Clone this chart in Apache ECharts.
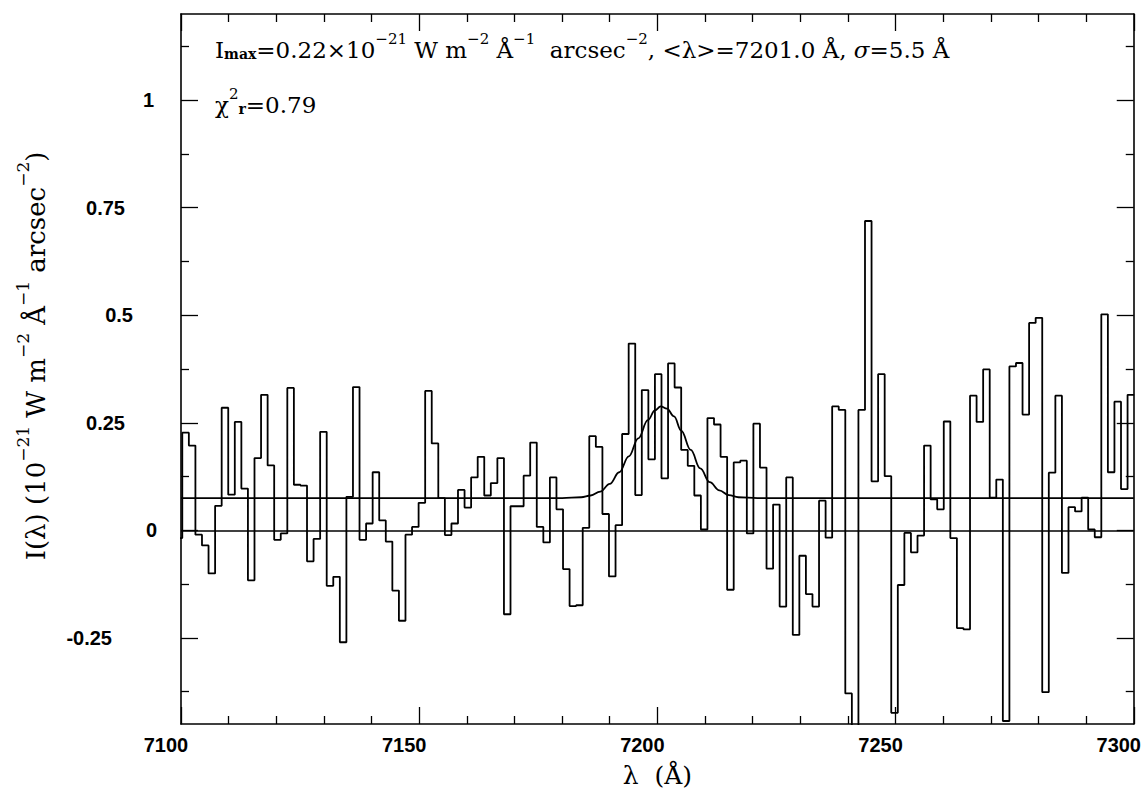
<!DOCTYPE html>
<html>
<head>
<meta charset="utf-8">
<script src="https://cdn.jsdelivr.net/npm/echarts@6/dist/echarts.min.js"></script>
<style>
html,body{margin:0;padding:0;background:#fff;}
#chart{width:1144px;height:793px;}
</style>
</head>
<body>
<div id="chart"></div>
<script>
// ---- data ----
// spectrum bins: first bin starts at binFirstEdge, constant width binWidth (Å)
const binFirstEdge = 7098.892;
const binWidth = 1.378;
const flux = [
 -0.018, 0.227, 0.197, -0.010, -0.035, -0.100, 0.057, 0.285, 0.083, 0.252,
  0.097, -0.116, 0.168, 0.315, 0.151, -0.022, -0.007, 0.331, 0.106, 0.104,
 -0.072, -0.020, 0.229, -0.129, -0.108, -0.260, 0.078, 0.333, -0.022, 0.016,
  0.135, 0.023, -0.026, -0.140, -0.210, -0.010, 0.008, 0.064, 0.324, 0.202,
  0.075, -0.011, 0.016, 0.094, 0.053, 0.123, 0.171, 0.081, 0.110, 0.168,
 -0.195, 0.056, 0.056, 0.127, 0.204, 0.008, -0.028, 0.123, 0.049, -0.090,
 -0.176, -0.174, 0.006, 0.219, 0.194, 0.038, -0.107, 0.012, 0.224, 0.434,
  0.082, 0.326, 0.165, 0.363, 0.121, 0.388, 0.332, 0.187, 0.150, 0.081,
  0.002, 0.261, 0.246, 0.171, -0.138, 0.158, 0.162, -0.007, 0.248, 0.146,
 -0.089, 0.060, -0.177, 0.123, -0.243, -0.059, -0.148, -0.177, 0.069, -0.017,
  0.288, 0.280, -0.379, -0.470, 0.280, 0.719, 0.114, 0.363, 0.126, -0.424,
 -0.127, -0.006, -0.051, -0.012, 0.197, 0.072, 0.049, 0.253, -0.018, -0.227,
 -0.230, 0.313, 0.252, 0.374, 0.076, 0.118, -0.443, 0.381, 0.389, 0.269,
  0.482, 0.494, -0.376, 0.134, 0.313, -0.099, 0.054, 0.044, 0.076, 0.002,
 -0.016, 0.502, 0.135, 0.299, 0.096, 0.315
];
// fitted gaussian + continuum
const fitLambda = [7100, 7180, 7184, 7186, 7188, 7190, 7192, 7194, 7196, 7198, 7199.5, 7200.7,
                   7202, 7203.5, 7205, 7207, 7209, 7211, 7213, 7215, 7217, 7221, 7300];
const fitFlux   = [0.075, 0.075, 0.077, 0.081, 0.090, 0.108, 0.135, 0.172, 0.214, 0.256, 0.279, 0.288,
                   0.283, 0.265, 0.232, 0.187, 0.144, 0.112, 0.093, 0.082, 0.077, 0.075, 0.075];
const zeroLevel = 0;
// axes
const xMin = 7100, xMax = 7300, xStep = 50;
const xTickValues = [7100, 7150, 7200, 7250, 7300];
const xTickLabels = ['7100', '7150', '7200', '7250', '7300'];
const yMin = -0.45, yMax = 1.2;
const yMajorTicks = [-0.25, 0, 0.25, 0.5, 0.75, 1];
const yTickLabels = ['-0.25', '0', '0.25', '0.5', '0.75', '1'];
const yMinorTicks = [-0.375, -0.125, 0.125, 0.375, 0.625, 0.875, 1.125];

// ---- build histogram outline from bins ----
const histPts = [];
flux.forEach((v, i) => {
  const lo = binFirstEdge + i * binWidth;
  const hi = lo + binWidth;
  histPts.push([lo, v], [hi, v]);
});
const fitPts = fitLambda.map((x, i) => [x, fitFlux[i]]);

// ---- styles ----
const INK = '#000';
const tickFont = {fontFamily: 'Liberation Sans', fontWeight: 'bold', fontSize: 20, color: INK};
// per-label horizontal nudges of the y labels (as in the original)
const yLabelShift = {'-0.25': 45, '0': 0, '0.25': 32, '0.5': 24, '0.75': 32, '1': 3};
const yRich = {};
yTickLabels.forEach((t, i) => {
  yRich['l' + i] = Object.assign({}, tickFont, {padding: [0, yLabelShift[t], 0, 0]});
});
function yLabelFmt(v) {
  const i = yMajorTicks.findIndex(t => Math.abs(t - v) < 1e-9);
  return i < 0 ? '' : '{l' + i + '|' + yTickLabels[i] + '}';
}
function xLabelFmt(v) {
  const i = xTickValues.findIndex(t => Math.abs(t - v) < 1e-9);
  return i < 0 ? '' : xTickLabels[i];
}
const lineW = 1.6;
function xAxisDef(pos, labels) {
  return {
    type: 'value', position: pos, min: xMin, max: xMax, interval: xStep,
    axisLine: {show: true, onZero: false, lineStyle: {color: INK, width: lineW}},
    axisTick: {show: true, inside: true, length: 17, lineStyle: {color: INK, width: 1.3}},
    minorTick: {show: true, splitNumber: 5, length: 8, lineStyle: {color: INK, width: 1.3}},
    splitLine: {show: false}, minorSplitLine: {show: false},
    axisLabel: labels ? Object.assign({show: true, margin: 11, padding: [0, 30, 0, 0],
      showMinLabel: true, showMaxLabel: true, formatter: xLabelFmt}, tickFont) : {show: false}
  };
}
function yAxisDef(pos, ticks, len, labels, line) {
  return {
    type: 'value', position: pos, offset: 0, min: yMin, max: yMax,
    axisLine: {show: line, onZero: false, lineStyle: {color: INK, width: lineW}},
    axisTick: {show: true, inside: true, length: len, customValues: ticks, lineStyle: {color: INK, width: 1.3}},
    splitLine: {show: false},
    axisLabel: labels ? {show: true, customValues: ticks, margin: 24, align: 'right',
      formatter: yLabelFmt, rich: yRich} : {show: false}
  };
}

const serif = 'DejaVu Serif';
const annRich = {
  m:   {fontFamily: serif, fontSize: 23, fill: INK, verticalAlign: 'middle'},
  it:  {fontFamily: serif, fontSize: 23, fontStyle: 'italic', fill: INK, verticalAlign: 'middle'},
  sup: {fontFamily: serif, fontSize: 15, fill: INK, verticalAlign: 'middle', padding: [0, 0, 23, 0]},
  sub: {fontFamily: serif, fontSize: 14, fontWeight: 'bold', fill: INK, verticalAlign: 'middle', padding: [7, 0, 0, 0]}
};
const titleRich = {
  m:   {fontFamily: serif, fontSize: 26, fill: INK, verticalAlign: 'middle'},
  sup: {fontFamily: serif, fontSize: 17, fill: INK, verticalAlign: 'middle', padding: [0, 0, 26, 0]}
};
const annText = '{m|I}{sub|max}{m|=0.22×10}{sup|−21}{m| W m}{sup|−2}{m| Å}{sup|−1}{m|  arcsec}{sup|−2}{m|, <λ>=7201.0 Å, }{it|σ}{m|=5.5 Å}';
const chiText = '{m|χ}{sup|2}{sub|r}{m|=0.79}';
const yTitleText = '{m|I(λ) (10}{sup|−21}{m| W m}{sup|−2}{m| Å}{sup|−1}{m| arcsec}{sup|−2}{m|)}';

const chart = echarts.init(document.getElementById('chart'), null, {renderer: 'svg'});
chart.setOption({
  animation: false,
  backgroundColor: '#fff',
  grid: {left: 181, right: 5, top: 14, bottom: 62, containLabel: false},
  xAxis: [
    Object.assign(xAxisDef('bottom', true), {
      name: 'λ  (Å)', nameLocation: 'middle', nameGap: 39,
      nameTextStyle: {fontFamily: serif, fontSize: 25, color: INK}
    }),
    xAxisDef('top', false)
  ],
  yAxis: [
    yAxisDef('left', yMajorTicks, 17, true, true),
    yAxisDef('left', yMinorTicks, 8, false, false),
    yAxisDef('right', yMajorTicks, 17, false, true),
    yAxisDef('right', yMinorTicks, 8, false, false)
  ],
  series: [
    {
      name: 'spectrum', type: 'line', data: histPts, xAxisIndex: 0, yAxisIndex: 0,
      showSymbol: false, symbol: 'none', clip: true,
      lineStyle: {color: INK, width: 1.8},
      markLine: {silent: true, symbol: 'none', label: {show: false},
        lineStyle: {color: INK, type: 'solid', width: 1.7},
        data: [{yAxis: zeroLevel}]}
    },
    {
      name: 'fit', type: 'line', data: fitPts, xAxisIndex: 0, yAxisIndex: 0,
      showSymbol: false, symbol: 'none', smooth: 0.4, smoothMonotone: 'x', clip: true,
      lineStyle: {color: INK, width: 1.8}
    }
  ],
  graphic: [
    {type: 'text', x: 215, y: 50, silent: true,
     style: {text: annText, rich: annRich, align: 'left', verticalAlign: 'middle'}},
    {type: 'text', x: 215, y: 105, silent: true,
     style: {text: chiText, rich: annRich, align: 'left', verticalAlign: 'middle'}},
    {type: 'text', x: 36, y: 356, rotation: Math.PI / 2, silent: true,
     style: {text: yTitleText, rich: titleRich, align: 'center', verticalAlign: 'middle'}}
  ]
});
</script>
</body>
</html>
